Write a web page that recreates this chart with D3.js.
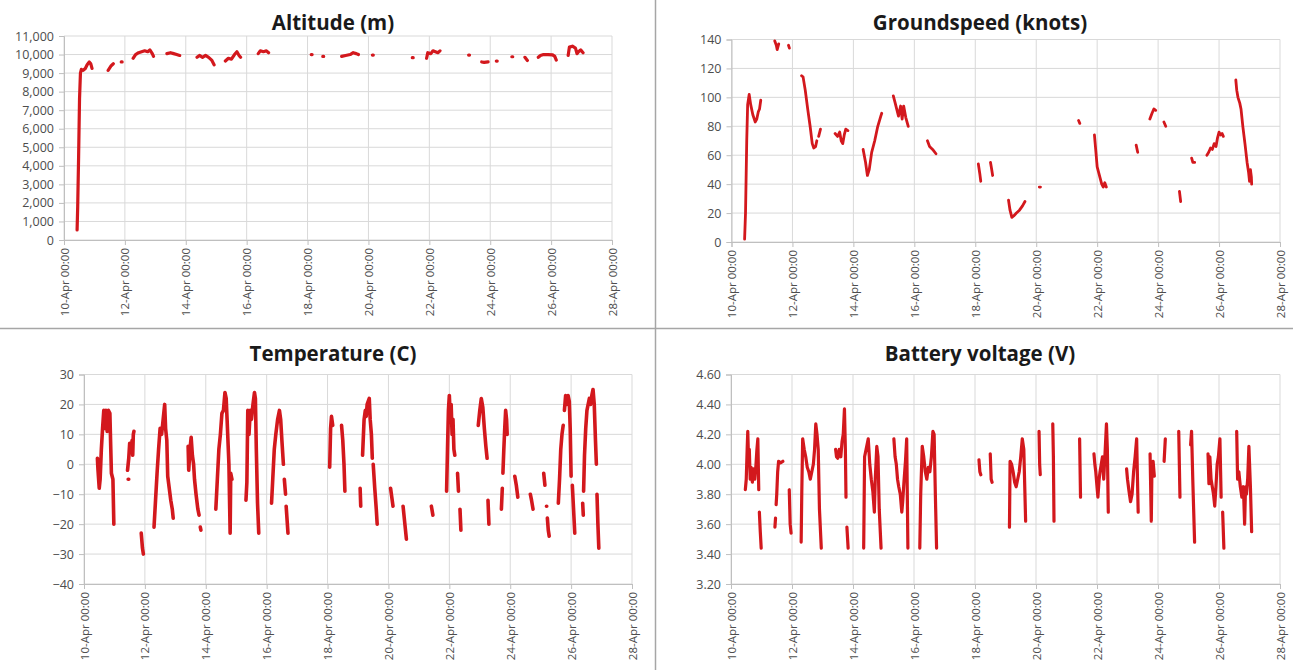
<!DOCTYPE html>
<html><head><meta charset="utf-8">
<script src="https://cdn.jsdelivr.net/npm/d3@7"></script>
<style>
html,body{margin:0;padding:0;background:#fff;}
svg{display:block;font-family:"Open Sans",sans-serif;}
</style></head><body>
<svg id="c" width="1293" height="670"></svg>
<script>
// ---- data: [days since 10-Apr 00:00, value]; null = gap in the record ----
const titles = ["Altitude (m)", "Groundspeed (knots)", "Temperature (C)", "Battery voltage (V)"];
const xTickDays = [0, 2, 4, 6, 8, 10, 12, 14, 16, 18];
const altTicks = [0,1000,2000,3000,4000,5000,6000,7000,8000,9000,10000,11000];
const speedTicks = [0,20,40,60,80,100,120,140];
const tempTicks = [-40,-30,-20,-10,0,10,20,30];
const voltTicks = [3.2,3.4,3.6,3.8,4.0,4.2,4.4,4.6];

const altitude = [
 [0.43,540],[0.45,1800],[0.48,4500],[0.51,7600],[0.54,9000],[0.57,9200],[0.63,9150],[0.7,9250],[0.76,9450],[0.83,9600],[0.88,9500],[0.92,9250], null,
 [1.45,9150],[1.55,9400],[1.62,9500], null,
 [1.88,9600],[1.91,9600], null,
 [2.27,9800],[2.35,10000],[2.45,10100],[2.55,10150],[2.65,10200],[2.75,10150],[2.82,10250],[2.9,10050],[2.94,9900], null,
 [3.38,10050],[3.5,10100],[3.6,10050],[3.7,10000],[3.8,9950], null,
 [4.37,9850],[4.45,9950],[4.55,9850],[4.65,9950],[4.75,9850],[4.85,9700],[4.93,9450], null,
 [5.3,9650],[5.4,9800],[5.5,9750],[5.6,10000],[5.68,10150],[5.75,9950],[5.8,9850], null,
 [6.38,10050],[6.45,10200],[6.55,10150],[6.65,10200],[6.72,10100], null,
 [8.12,10000],[8.15,10000], null,
 [8.5,9900],[8.53,9900], null,
 [9.12,9900],[9.25,9950],[9.4,10000],[9.5,10100],[9.6,10050],[9.67,10000], null,
 [10.13,9970],[10.16,9970], null,
 [11.44,9830],[11.47,9830], null,
 [11.91,9800],[11.95,10100],[12.05,10050],[12.12,10200],[12.2,10150],[12.28,10100],[12.35,10200], null,
 [13.29,9970],[13.32,9970], null,
 [13.72,9600],[13.8,9580],[13.93,9600], null,
 [14.2,9650],[14.23,9650], null,
 [14.71,9880],[14.74,9880], null,
 [15.14,9850],[15.22,9680], null,
 [15.58,9850],[15.65,9950],[15.75,10000],[15.9,10000],[16.05,9980],[16.12,9900],[16.17,9700], null,
 [16.56,9950],[16.6,10400],[16.7,10450],[16.8,10350],[16.85,10050],[16.9,10150],[16.97,10250],[17.05,10100]
];

const groundspeed = [
 [0.43,2],[0.46,20],[0.5,70],[0.53,95],[0.58,102],[0.63,95],[0.7,88],[0.78,83],[0.83,85],[0.88,90],[0.92,92],[0.96,98], null,
 [1.42,139],[1.47,136],[1.5,133],[1.55,137], null,
 [1.87,136],[1.9,134], null,
 [2.3,115],[2.35,114],[2.42,105],[2.5,92],[2.58,80],[2.65,68],[2.7,65],[2.76,66],[2.8,70], null,
 [2.86,73],[2.92,78], null,
 [3.4,75],[3.48,73],[3.55,76],[3.6,70],[3.65,68],[3.7,74],[3.75,78],[3.82,77], null,
 [4.32,64],[4.4,55],[4.46,46],[4.52,50],[4.6,62],[4.7,70],[4.8,80],[4.9,87],[4.93,89], null,
 [5.31,101],[5.36,97],[5.42,92],[5.48,87],[5.55,94],[5.6,85],[5.65,94],[5.72,86],[5.8,80], null,
 [6.43,70],[6.5,66],[6.6,64],[6.71,61], null,
 [8.1,54],[8.15,47],[8.18,42], null,
 [8.5,55],[8.54,50],[8.57,46], null,
 [9.09,29],[9.14,22],[9.2,17],[9.26,18],[9.35,20],[9.45,22],[9.55,25],[9.63,28], null,
 [10.1,38],[10.14,38], null,
 [11.39,84],[11.43,82], null,
 [11.91,74],[11.96,62],[12.0,52],[12.05,48],[12.1,44],[12.15,40],[12.2,38],[12.25,41],[12.3,38], null,
 [13.28,67],[13.33,62], null,
 [13.73,85],[13.8,89],[13.86,92],[13.92,91], null,
 [14.19,83],[14.25,80], null,
 [14.7,35],[14.74,28], null,
 [15.1,58],[15.14,55],[15.2,55], null,
 [15.6,60],[15.66,62],[15.72,65],[15.78,64],[15.84,68],[15.9,66],[15.95,72],[16.0,76],[16.05,74],[16.1,75],[16.14,73], null,
 [16.55,112],[16.58,105],[16.62,100],[16.68,96],[16.72,92],[16.78,80],[16.85,68],[16.92,55],[16.97,48],[17.0,42],[17.03,50],[17.06,45],[17.07,40]
];

const temperature = [
 [0.44,2],[0.46,-2],[0.5,-8],[0.53,-5],[0.57,5],[0.61,12],[0.65,18],[0.68,12],[0.72,18],[0.76,11],[0.8,18],[0.85,17],[0.88,5],[0.9,-3],[0.95,-5],[0.98,-20], null,
 [1.45,-5],[1.47,-5], null,
 [1.43,-2],[1.47,2],[1.5,7],[1.54,4],[1.58,8],[1.6,3],[1.62,10],[1.64,11], null,
 [1.88,-23],[1.92,-28],[1.95,-30], null,
 [2.3,-21],[2.35,-12],[2.4,-3],[2.45,5],[2.5,12],[2.55,10],[2.6,15],[2.65,20],[2.68,12],[2.72,8],[2.75,-4],[2.8,-8],[2.85,-12],[2.9,-15],[2.93,-18], null,
 [3.42,6],[3.44,-2],[3.48,5],[3.52,9],[3.56,3],[3.6,0],[3.63,-5],[3.68,-10],[3.74,-15],[3.78,-17], null,
 [3.82,-21],[3.84,-22], null,
 [4.33,-15],[4.38,-5],[4.43,5],[4.48,10],[4.53,17],[4.58,18],[4.63,24],[4.67,22],[4.7,15],[4.76,0],[4.8,-23],[4.82,-3],[4.86,-5], null,
 [5.32,-12],[5.35,-6],[5.38,18],[5.42,10],[5.46,18],[5.5,15],[5.55,20],[5.6,24],[5.63,22],[5.66,5],[5.7,-13],[5.74,-23], null,
 [6.16,-13],[6.2,-5],[6.25,5],[6.3,10],[6.36,15],[6.42,18],[6.46,15],[6.5,8],[6.55,0], null,
 [6.58,-5],[6.62,-10], null,
 [6.64,-14],[6.7,-23], null,
 [8.07,-1],[8.1,12],[8.13,16],[8.17,13], null,
 [8.46,13],[8.5,8],[8.54,0],[8.57,-9], null,
 [9.07,-8],[9.09,-14], null,
 [9.15,3],[9.2,15],[9.24,18],[9.27,16],[9.3,20],[9.37,22],[9.4,15],[9.44,10],[9.47,2], null,
 [9.5,0],[9.55,-8],[9.6,-15],[9.63,-20], null,
 [10.07,-8],[10.11,-11],[10.15,-14], null,
 [10.48,-14],[10.54,-20],[10.59,-25], null,
 [11.41,-14],[11.46,-17], null,
 [11.91,-9],[11.94,5],[11.97,18],[12.0,23],[12.03,16],[12.06,20],[12.09,10],[12.12,15],[12.15,5],[12.18,3], null,
 [12.27,-3],[12.3,-9], null,
 [12.35,-15],[12.38,-22], null,
 [12.95,13],[13.0,18],[13.05,22],[13.1,19],[13.15,12],[13.2,6],[13.24,2], null,
 [13.27,-12],[13.3,-20], null,
 [13.71,-15],[13.74,-8], null,
 [13.76,-3],[13.79,5],[13.82,12],[13.85,18],[13.88,15],[13.9,10], null,
 [14.15,-4],[14.2,-7],[14.25,-11], null,
 [14.66,-10],[14.7,-12],[14.75,-15], null,
 [15.1,-3],[15.14,-7], null,
 [15.19,-14],[15.2,-14], null,
 [15.22,-18],[15.25,-22],[15.28,-24], null,
 [15.58,-13],[15.62,-5],[15.66,5],[15.7,10],[15.74,13], null,
 [15.78,18],[15.82,23],[15.86,20],[15.9,23],[15.94,21],[15.97,12],[16.0,-4], null,
 [16.04,-7],[16.08,-15],[16.12,-23], null,
 [16.38,-13],[16.4,-17], null,
 [16.41,-9],[16.44,3],[16.48,12],[16.52,18],[16.56,20],[16.6,22],[16.64,20],[16.68,23],[16.72,25],[16.76,20],[16.8,8],[16.83,0], null,
 [16.85,-10],[16.88,-20],[16.91,-28]
];

const voltage = [
 [0.47,3.83],[0.5,3.9],[0.53,4.1],[0.55,4.22],[0.58,4.0],[0.6,4.1],[0.63,3.9],[0.66,3.98],[0.7,3.88],[0.74,3.97],[0.78,3.9],[0.82,4.0],[0.85,4.1],[0.88,4.17],[0.91,3.83], null,
 [0.93,3.68],[0.96,3.55],[0.99,3.44], null,
 [1.44,3.58],[1.46,3.64], null,
 [1.48,3.73],[1.5,3.8],[1.53,3.95],[1.56,4.02],[1.62,4.01],[1.7,4.02], null,
 [1.91,3.83],[1.94,3.6],[1.97,3.54], null,
 [2.3,3.48],[2.32,3.8],[2.35,4.17],[2.4,4.1],[2.45,4.05],[2.5,3.98],[2.55,3.95],[2.6,3.9],[2.65,3.95],[2.7,4.0],[2.74,4.1],[2.78,4.27],[2.82,4.2],[2.86,4.1],[2.9,3.7],[2.96,3.44], null,
 [3.43,4.1],[3.46,4.05],[3.5,4.04],[3.55,4.1],[3.6,4.05],[3.64,4.15],[3.68,4.2],[3.72,4.37],[3.75,4.1],[3.77,3.78], null,
 [3.8,3.58],[3.84,3.44], null,
 [4.35,3.44],[4.38,4.05],[4.43,4.1],[4.5,4.17],[4.55,4.0],[4.6,3.9],[4.65,3.82],[4.7,3.68],[4.73,3.9],[4.78,4.12],[4.82,4.05],[4.86,3.7],[4.92,3.44], null,
 [5.34,4.17],[5.38,4.05],[5.42,4.0],[5.46,3.9],[5.5,3.85],[5.55,3.8],[5.6,3.68],[5.63,3.75],[5.67,3.88],[5.72,4.02],[5.76,4.17],[5.8,3.44], null,
 [6.19,3.44],[6.22,3.8],[6.27,4.12],[6.32,4.05],[6.37,3.95],[6.42,3.9],[6.47,3.98],[6.52,3.95],[6.57,4.05],[6.62,4.22],[6.66,4.2],[6.7,3.8],[6.74,3.44], null,
 [8.13,4.03],[8.16,3.95],[8.19,3.93], null,
 [8.5,4.07],[8.53,3.9],[8.56,3.88], null,
 [9.13,3.58],[9.15,4.02],[9.2,4.0],[9.25,3.95],[9.3,3.88],[9.35,3.85],[9.4,3.9],[9.45,3.95],[9.5,4.05],[9.55,4.17],[9.6,4.1],[9.66,3.62], null,
 [10.1,4.22],[10.12,4.0],[10.14,3.93], null,
 [10.55,4.27],[10.57,4.05],[10.59,3.62], null,
 [11.43,4.17],[11.46,3.78], null,
 [11.9,4.07],[11.93,4.0],[11.96,3.95],[12.0,3.85],[12.03,3.78],[12.07,3.9],[12.1,3.95],[12.14,4.0],[12.18,4.05],[12.22,3.9],[12.27,4.1],[12.31,4.27],[12.34,4.1],[12.37,3.68], null,
 [12.97,3.97],[13.0,3.9],[13.05,3.82],[13.1,3.75],[13.15,3.8],[13.2,3.95],[13.25,4.05],[13.3,4.17],[13.35,3.68], null,
 [13.74,4.07],[13.78,3.62],[13.8,3.95],[13.84,4.02],[13.88,3.92], null,
 [14.2,4.02],[14.24,4.17], null,
 [14.68,4.22],[14.72,3.78], null,
 [15.07,4.13],[15.1,4.22],[15.14,3.9],[15.2,3.48], null,
 [15.64,4.07],[15.67,3.87],[15.7,4.05],[15.74,3.9],[15.78,3.85],[15.82,3.8],[15.86,3.72],[15.9,3.85],[15.94,4.0],[15.98,4.05],[16.03,4.17],[16.07,3.78], null,
 [16.12,3.68],[16.16,3.44], null,
 [16.58,4.22],[16.61,3.9],[16.65,3.95],[16.7,3.85],[16.75,3.78],[16.8,3.85],[16.84,3.6],[16.87,3.85],[16.9,3.8],[16.94,3.9],[16.98,4.12],[17.03,3.85],[17.07,3.55]
];

// ---- drawing ----
const svg = d3.select("#c");
const base = Date.UTC(2016, 3, 10);
const toDate = d => new Date(base + d * 864e5);
const fmtX = d3.utcFormat("%d-%b %H:%M");
const RED = "#d3181d";

// panel separators
svg.append("line").attr("x1",655.5).attr("x2",655.5).attr("y1",0).attr("y2",670).attr("stroke","#a6a6a6").attr("stroke-width",1.5);
svg.append("line").attr("x1",0).attr("x2",1293).attr("y1",328.5).attr("y2",328.5).attr("stroke","#a6a6a6").attr("stroke-width",1.5);

const panels = [
 {title:titles[0], data:altitude, ticks:altTicks, fmt:d3.format(","), x0:64, x1:612, y0:36, y1:240, tx:333, ty:30, sw:3.2},
 {title:titles[1], data:groundspeed, ticks:speedTicks, fmt:d3.format("d"), x0:731.5, x1:1280, y0:39.5, y1:242, tx:980, ty:30, sw:2.8},
 {title:titles[2], data:temperature, ticks:tempTicks, fmt:d3.format("d"), x0:84, x1:632, y0:374.5, y1:584, tx:333, ty:361, sw:3.6},
 {title:titles[3], data:voltage, ticks:voltTicks, fmt:d3.format(".2f"), x0:731, x1:1280, y0:374.5, y1:584, tx:980, ty:361, sw:3.2}
];

panels.forEach(p => {
  const x = d3.scaleUtc().domain([toDate(0), toDate(18)]).range([p.x0, p.x1]);
  const y = d3.scaleLinear().domain(d3.extent(p.ticks)).range([p.y1, p.y0]);
  const g = svg.append("g");

  // gridlines
  g.append("g").selectAll("line").data(p.ticks).join("line")
    .attr("x1", p.x0).attr("x2", p.x1).attr("y1", d => y(d)).attr("y2", d => y(d))
    .attr("stroke", "#d9d9d9").attr("stroke-width", 1);
  g.append("g").selectAll("line").data(xTickDays).join("line")
    .attr("x1", d => x(toDate(d))).attr("x2", d => x(toDate(d))).attr("y1", p.y0).attr("y2", p.y1)
    .attr("stroke", "#d9d9d9").attr("stroke-width", 1);

  // y axis
  const ya = g.append("g").attr("transform", `translate(${p.x0},0)`)
    .call(d3.axisLeft(y).tickValues(p.ticks).tickFormat(p.fmt).tickSize(5).tickPadding(5));
  ya.select(".domain").attr("stroke", "#bfbfbf");
  ya.selectAll(".tick line").attr("stroke", "#bfbfbf");
  ya.selectAll("text").attr("fill", "#4d4d4d").style("font-size", "12.5px").style("font-family", "'Open Sans', sans-serif");

  // x axis
  const xa = g.append("g").attr("transform", `translate(0,${p.y1})`)
    .call(d3.axisBottom(x).tickValues(xTickDays.map(toDate)).tickFormat(fmtX).tickSize(5));
  xa.select(".domain").attr("stroke", "#bfbfbf");
  xa.selectAll(".tick line").attr("stroke", "#bfbfbf");
  xa.selectAll("text")
    .attr("y", 0).attr("x", -8).attr("dy", "0.35em")
    .attr("transform", "rotate(-90)").style("text-anchor", "end")
    .attr("fill", "#4d4d4d").style("font-size", "11.5px").style("font-family", "'Open Sans', sans-serif");

  // series line
  const line = d3.line()
    .defined(d => d !== null)
    .x(d => x(toDate(d[0])))
    .y(d => y(d[1]));
  g.append("path").datum(p.data).attr("d", line)
    .attr("fill", "none").attr("stroke", RED).attr("stroke-width", p.sw)
    .attr("stroke-linejoin", "round").attr("stroke-linecap", "round");

  // title
  g.append("text").attr("x", p.tx).attr("y", p.ty).attr("text-anchor", "middle")
    .attr("fill", "#1a1a1a").style("font-weight", "bold").style("font-size", "20.5px")
    .style("font-family", "'Open Sans', sans-serif").text(p.title);
});
</script>
</body></html>
